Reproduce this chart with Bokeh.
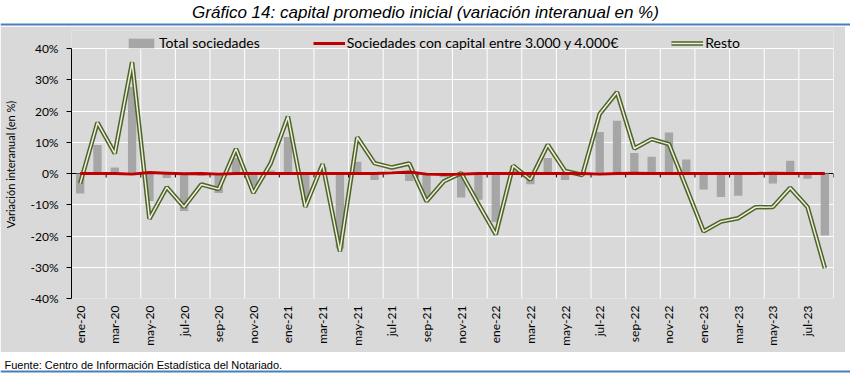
import math
from bokeh.plotting import figure
from bokeh.layouts import column
from bokeh.models import (ColumnDataSource, FixedTicker, Range1d, Label, BoxAnnotation,
                          Legend, LegendItem, Span)
from bokeh.embed import file_html
from bokeh.resources import INLINE

# ---------------- data ----------------
meses = ["ene", "feb", "mar", "abr", "may", "jun", "jul", "ago", "sep", "oct", "nov", "dic"]
anios = ["20", "21", "22", "23"]
etiquetas = [f"{m}-{a}" for a in anios for m in meses][:44]   # ene-20 ... ago-23

total_sociedades = [
    -6.4, 9.1, 1.9, 27.7, -8.8, -1.4, -12.0, -0.7, -6.2, 5.0, -4.0, 1.0,
    11.7, -8.5, 2.0, -24.0, 3.8, -2.1, 0.3, -2.4, -7.5, -1.2, -7.7, -8.4,
    -15.5, 1.0, -3.4, 5.0, -2.1, -0.3, 13.3, 16.9, 6.6, 5.4, 13.1, 4.5,
    -5.1, -7.5, -7.1, 0.0, -3.2, 4.1, -1.7, -19.8,
]
sociedades_3000_4000 = [
    0.0, 0.0, 0.0, -0.2, 0.3, 0.1, -0.1, 0.0, -0.2, 0.0, 0.0, 0.0,
    0.0, 0.0, 0.0, 0.0, 0.0, 0.0, 0.2, 0.5, -0.2, -0.3, -0.2, 0.0,
    0.0, 0.0, 0.0, 0.0, 0.0, 0.0, -0.2, 0.0, 0.1, 0.0, 0.0, 0.0,
    0.0, 0.0, 0.0, 0.0, 0.1, 0.0, 0.0, 0.0,
]
resto = [
    -3.2, 16.3, 6.4, 35.6, -14.5, -4.4, -10.7, -3.5, -5.0, 7.9, -6.2, 3.2,
    18.2, -10.7, 3.0, -24.9, 11.6, 3.3, 1.9, 3.2, -8.9, -2.5, 0.1, -9.8,
    -19.5, 2.5, -2.0, 9.2, 0.8, -0.5, 19.1, 26.0, 8.0, 11.0, 9.4, -4.5,
    -18.5, -15.4, -14.3, -10.8, -10.7, -4.6, -10.7, -30.3,
]
y_ticks = [-40, -30, -20, -10, 0, 10, 20, 30, 40]

TITULO = "Gráfico 14: capital promedio inicial (variación interanual en %)"
FUENTE = "Fuente: Centro de Información Estadística del Notariado."

n = len(etiquetas)
xs = list(range(n))
src = ColumnDataSource(dict(x=xs, total=total_sociedades, soc=sociedades_3000_4000, resto=resto))

W = 850
WM = 845
GRAY = "#d9d9d9"
BLUE = "#4a7ebb"


def no_align(f):
    if "frame_align" in f.properties():
        f.frame_align = False


def blank_fig(h):
    f = figure(width=W, height=h, x_range=Range1d(0, 1), y_range=Range1d(0, 1),
               output_backend="svg", toolbar_location=None,
               x_axis_location=None, y_axis_location=None,
               min_border_left=0, min_border_right=0, min_border_top=0, min_border_bottom=0,
               background_fill_color="white", border_fill_color="white", outline_line_color=None)
    f.xgrid.visible = False
    f.ygrid.visible = False
    no_align(f)
    return f


def rule(f, bottom, top):
    f.add_layout(BoxAnnotation(left=0, right=W, top=top, bottom=bottom,
                               left_units="screen", right_units="screen",
                               top_units="screen", bottom_units="screen",
                               fill_color=BLUE, fill_alpha=1, line_color=None))


# ---------------- title strip ----------------
HT = 26
ft = blank_fig(HT)
ft.add_layout(Label(x=425, y=HT - 12, x_units="screen", y_units="screen", text=TITULO,
                    text_font="Liberation Sans", text_font_style="italic", text_font_size="17px",
                    text_align="center", text_baseline="middle", text_color="black"))
rule(ft, 1, 3)

# ---------------- main chart ----------------
HM = 326
TOP_PX = 18                       # room above the 40% line for the legend
BOTTOM_PX = 54
FRAME_H = 250 + TOP_PX
y_top = 40 + TOP_PX * 80 / 250
p = figure(width=WM, height=HM, x_range=Range1d(-0.5, n - 0.5), y_range=Range1d(-40, y_top),
           output_backend="svg", toolbar_location=None,
           min_border_left=70, min_border_right=WM - 833, min_border_top=HM - BOTTOM_PX - FRAME_H,
           min_border_bottom=BOTTOM_PX,
           background_fill_color=GRAY, border_fill_color=GRAY, outline_line_color=None)
no_align(p)

# grids
p.xgrid.visible = False
bounds = [i + 1.5 for i in range(0, n, 2)]
p.segment(x0=bounds, y0=[-40] * len(bounds), x1=bounds, y1=[40] * len(bounds),
          line_color="white", line_width=1)
p.ygrid.ticker = FixedTicker(ticks=y_ticks)
p.ygrid.grid_line_color = "white"
p.ygrid.grid_line_width = 1

# axes
p.yaxis.ticker = FixedTicker(ticks=y_ticks)
p.yaxis.bounds = (-40, 40)
p.yaxis.major_label_overrides = {v: f"{v}%" for v in y_ticks}
p.yaxis.axis_line_color = "black"
p.yaxis.major_tick_line_color = "black"
p.yaxis.major_tick_out = 5
p.yaxis.major_tick_in = 0
p.yaxis.minor_tick_line_color = None
p.yaxis.major_label_text_font = "Lato"
p.yaxis.major_label_text_font_size = "12px"
p.yaxis.major_label_text_color = "black"
p.yaxis.major_label_standoff = 8
p.yaxis.axis_label = "Variación interanual (en %)"
p.yaxis.axis_label_text_font = "Lato"
p.yaxis.axis_label_text_font_size = "11px"
p.yaxis.axis_label_text_font_style = "normal"
p.yaxis.axis_label_text_color = "black"
p.yaxis.axis_label_standoff = 11

p.xaxis.ticker = FixedTicker(ticks=list(range(0, n, 2)))
p.xaxis.major_label_overrides = {i: etiquetas[i] for i in range(0, n, 2)}
p.xaxis.major_label_orientation = math.pi / 2
p.xaxis.axis_line_color = None
p.xaxis.major_tick_line_color = None
p.xaxis.major_tick_out = 0
p.xaxis.major_tick_in = 0
p.xaxis.minor_tick_line_color = None
p.xaxis.major_label_text_font = "Lato"
p.xaxis.major_label_text_font_size = "12px"
p.xaxis.major_label_text_color = "black"
p.xaxis.major_label_standoff = 7

# zero axis line and its ticks
p.add_layout(Span(location=0, dimension="width", line_color="black", line_width=1, level="underlay"))
tick_len = 4 * 80 / 250
p.segment(x0=bounds, y0=[0] * len(bounds), x1=bounds, y1=[-tick_len] * len(bounds),
          line_color="black", line_width=1)

# series
bars = p.vbar(x="x", top="total", width=0.48, fill_color="#a6a6a6", line_color=None, source=src)
g_out = p.line(x="x", y="resto", line_color="#4f6228", line_width=4.5, source=src)
g_in = p.line(x="x", y="resto", line_color="#ebf1de", line_width=1.5, source=src)
red = p.line(x="x", y="soc", line_color="#c00000", line_width=3, source=src)

legend = Legend(items=[LegendItem(label="Total sociedades", renderers=[bars]),
                       LegendItem(label="Sociedades con capital entre 3.000 y 4.000€", renderers=[red]),
                       LegendItem(label="Resto", renderers=[g_out, g_in])],
                location=(54, 247), orientation="horizontal",
                background_fill_alpha=0, border_line_color=None,
                padding=0, margin=0, spacing=53, label_standoff=2,
                glyph_width=32, glyph_height=12, label_height=12,
                label_text_font="Lato", label_text_font_size="14px", label_text_color="black")
p.add_layout(legend)

# ---------------- footnote strip ----------------
HF = 22
ff = blank_fig(HF)
ff.add_layout(Label(x=4, y=HF - 12, x_units="screen", y_units="screen", text=FUENTE,
                    text_font="Liberation Sans", text_font_size="11px",
                    text_align="left", text_baseline="middle", text_color="black"))
rule(ff, 2, 4)

layout = column(ft, p, ff, spacing=0)
open("out.html", "w").write(file_html(layout, INLINE))
